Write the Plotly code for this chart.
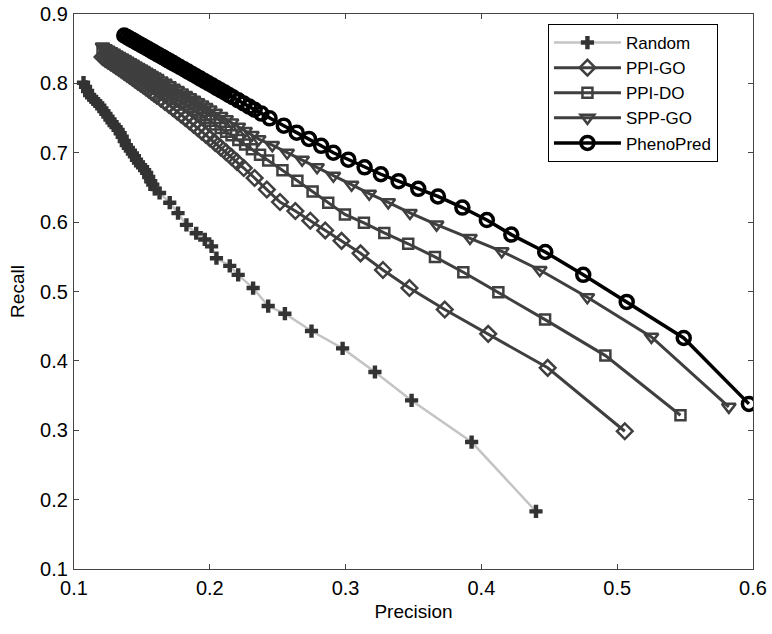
import plotly.graph_objects as go

# ---------------- data ----------------
random_x = [0.1070, 0.1085, 0.1100, 0.1115, 0.1130, 0.1145, 0.1160, 0.1175, 0.1190, 0.1205,
            0.1220, 0.1235, 0.1250, 0.1265, 0.1280, 0.1295, 0.1310, 0.1325, 0.1340, 0.1355,
            0.1370, 0.1385, 0.1400, 0.1415, 0.1430, 0.1445, 0.1460, 0.1475, 0.1490, 0.1505,
            0.1520, 0.1535, 0.1550, 0.1565, 0.1580, 0.1595,
            0.163, 0.1705, 0.1766, 0.1828, 0.190, 0.1963, 0.2013, 0.2049, 0.2147, 0.2209,
            0.2319, 0.243, 0.2553, 0.2749, 0.2978, 0.3216, 0.3486, 0.3928, 0.4402]
random_y = [0.801, 0.795, 0.789, 0.783, 0.780, 0.777, 0.774, 0.771, 0.768, 0.764,
            0.760, 0.756, 0.752, 0.748, 0.744, 0.740, 0.737, 0.733, 0.728, 0.723,
            0.717, 0.711, 0.707, 0.703, 0.699, 0.695, 0.690, 0.686, 0.682, 0.679,
            0.675, 0.671, 0.665, 0.659, 0.654, 0.648,
            0.642, 0.628, 0.613, 0.596, 0.584, 0.575, 0.565, 0.548, 0.537, 0.524,
            0.505, 0.479, 0.468, 0.443, 0.418, 0.384, 0.343, 0.283, 0.183]

ppigo_x = [0.121, 0.123, 0.125, 0.127, 0.129, 0.131, 0.133, 0.135, 0.137, 0.139,
           0.141, 0.143, 0.145, 0.147, 0.149, 0.151, 0.153, 0.155, 0.157, 0.159,
           0.161, 0.164, 0.167, 0.170, 0.173, 0.176, 0.179, 0.182, 0.185, 0.188,
           0.191, 0.194, 0.197, 0.200, 0.204, 0.208, 0.212, 0.216, 0.220, 0.225,
           0.233, 0.242, 0.2517, 0.263, 0.274, 0.285, 0.297, 0.311, 0.3275, 0.347,
           0.373, 0.405, 0.4488, 0.5056]
ppigo_y = [0.838, 0.8354, 0.8327, 0.8301, 0.8275, 0.8248, 0.8221, 0.8194, 0.8166, 0.8138,
           0.8111, 0.8083, 0.8055, 0.8026, 0.7998, 0.7969, 0.7940, 0.7911, 0.7882, 0.7853,
           0.7823, 0.7778, 0.7733, 0.7688, 0.7642, 0.7595, 0.7548, 0.7501, 0.7454, 0.7406,
           0.7357, 0.7308, 0.7259, 0.7209, 0.7142, 0.7075, 0.7007, 0.6938, 0.6868, 0.6780,
           0.6636, 0.6470, 0.629, 0.616, 0.602, 0.588, 0.573, 0.555, 0.531, 0.505,
           0.474, 0.439, 0.390, 0.2986]

ppido_x = [0.121, 0.123, 0.125, 0.127, 0.129, 0.131, 0.133, 0.135, 0.137, 0.139,
           0.141, 0.143, 0.145, 0.147, 0.149, 0.151, 0.153, 0.155, 0.157, 0.159,
           0.161, 0.164, 0.167, 0.170, 0.173, 0.176, 0.179, 0.182, 0.185, 0.188,
           0.191, 0.194, 0.197, 0.200, 0.204, 0.208, 0.212, 0.216, 0.221, 0.226,
           0.231, 0.237, 0.243, 0.2535, 0.2645, 0.2757, 0.2872, 0.2995, 0.3135, 0.3285,
           0.3461, 0.3658, 0.3867, 0.4125, 0.4469, 0.4913, 0.5466]
ppido_y = [0.846, 0.8436, 0.8411, 0.8387, 0.8362, 0.8338, 0.8313, 0.8288, 0.8264, 0.8239,
           0.8214, 0.8189, 0.8164, 0.8139, 0.8114, 0.8089, 0.8064, 0.8039, 0.8014, 0.7988,
           0.7963, 0.7925, 0.7887, 0.7849, 0.7811, 0.7772, 0.7734, 0.7695, 0.7657, 0.7618,
           0.7579, 0.7540, 0.7501, 0.7462, 0.7409, 0.7357, 0.7304, 0.7251, 0.7185, 0.7118,
           0.7051, 0.6971, 0.6889, 0.6747, 0.6596, 0.6441, 0.628, 0.611, 0.599, 0.5844,
           0.5688, 0.5499, 0.5277, 0.4989, 0.4595, 0.4076, 0.3216]

sppgo_x = [0.121, 0.123, 0.125, 0.127, 0.129, 0.131, 0.133, 0.135, 0.137, 0.139,
           0.141, 0.143, 0.145, 0.147, 0.149, 0.151, 0.153, 0.155, 0.157, 0.159,
           0.161, 0.164, 0.167, 0.170, 0.173, 0.176, 0.179, 0.182, 0.185, 0.188,
           0.191, 0.194, 0.197, 0.200, 0.204, 0.208, 0.212, 0.216, 0.221, 0.226,
           0.231, 0.236, 0.246, 0.257, 0.268, 0.279, 0.291, 0.3044, 0.3174, 0.3314,
           0.3474, 0.367, 0.3916, 0.415, 0.443, 0.478, 0.5252, 0.5822]
sppgo_y = [0.853, 0.8508, 0.8485, 0.8463, 0.8440, 0.8418, 0.8395, 0.8372, 0.8350, 0.8327,
           0.8305, 0.8282, 0.8259, 0.8236, 0.8214, 0.8191, 0.8168, 0.8145, 0.8122, 0.8099,
           0.8076, 0.8042, 0.8008, 0.7973, 0.7938, 0.7903, 0.7868, 0.7834, 0.7799, 0.7764,
           0.7729, 0.7694, 0.7658, 0.7623, 0.7576, 0.7529, 0.7482, 0.7435, 0.7375, 0.7315,
           0.7255, 0.7196, 0.711, 0.700, 0.690, 0.679, 0.667, 0.654, 0.641, 0.6285,
           0.6133, 0.5964, 0.5772, 0.5579, 0.531, 0.4917, 0.4346, 0.3337]

phenopred_x = [0.137, 0.139, 0.141, 0.143, 0.145, 0.147, 0.149, 0.151, 0.153, 0.155,
               0.157, 0.159, 0.161, 0.163, 0.165, 0.167, 0.169, 0.171, 0.173, 0.175,
               0.178, 0.181, 0.184, 0.187, 0.190, 0.193, 0.196, 0.199, 0.202, 0.205,
               0.208, 0.211, 0.214, 0.217, 0.221, 0.225, 0.229, 0.233, 0.238, 0.244,
               0.2545, 0.264, 0.273, 0.282, 0.291, 0.302, 0.314, 0.326, 0.339, 0.3535,
               0.368, 0.386, 0.404, 0.422, 0.447, 0.475, 0.507, 0.549, 0.597]
phenopred_y = [0.869, 0.8668, 0.8646, 0.8624, 0.8602, 0.8580, 0.8558, 0.8536, 0.8514, 0.8492,
               0.8469, 0.8447, 0.8425, 0.8403, 0.8381, 0.8359, 0.8336, 0.8314, 0.8292, 0.8270,
               0.8236, 0.8203, 0.8170, 0.8136, 0.8103, 0.8069, 0.8036, 0.8002, 0.7969, 0.7935,
               0.7901, 0.7868, 0.7834, 0.7800, 0.7755, 0.7710, 0.7665, 0.7620, 0.7564, 0.7496,
               0.739, 0.729, 0.720, 0.710, 0.700, 0.690, 0.679, 0.669, 0.659, 0.648,
               0.637, 0.621, 0.603, 0.582, 0.557, 0.524, 0.485, 0.433, 0.338]

x_ticks = [0.1, 0.2, 0.3, 0.4, 0.5, 0.6]
y_ticks = [0.1, 0.2, 0.3, 0.4, 0.5, 0.6, 0.7, 0.8, 0.9]

GREY = "#3f3f3f"
FONT = "Liberation Sans, Arial, sans-serif"

fig = go.Figure()

fig.add_trace(go.Scatter(
    x=random_x, y=random_y, name="Random", mode="lines+markers",
    line=dict(color="#c4c4c4", width=2.5),
    marker=dict(symbol="cross", size=11, color="#333333")))

fig.add_trace(go.Scatter(
    x=ppigo_x, y=ppigo_y, name="PPI-GO", mode="lines+markers",
    line=dict(color=GREY, width=3),
    marker=dict(symbol="diamond-open", size=12, color=GREY, line=dict(width=2.5, color=GREY))))

fig.add_trace(go.Scatter(
    x=ppido_x, y=ppido_y, name="PPI-DO", mode="lines+markers",
    line=dict(color=GREY, width=3),
    marker=dict(symbol="square-open", size=10, color=GREY, line=dict(width=2.5, color=GREY))))

fig.add_trace(go.Scatter(
    x=sppgo_x, y=sppgo_y, name="SPP-GO", mode="lines+markers",
    line=dict(color=GREY, width=3),
    marker=dict(symbol="triangle-down-open", size=12, color=GREY, line=dict(width=2.5, color=GREY))))

fig.add_trace(go.Scatter(
    x=phenopred_x, y=phenopred_y, name="PhenoPred", mode="lines+markers",
    line=dict(color="#000000", width=3.5),
    marker=dict(symbol="circle-open", size=13, color="#000000", line=dict(width=3.5, color="#000000"))))

axis_common = dict(
    showgrid=False, zeroline=False, showline=True, linecolor="#444444", linewidth=1.2,
    mirror="ticks", ticks="inside", ticklen=5, tickcolor="#444444", tickwidth=1,
    tickfont=dict(family=FONT, size=20, color="#000000"), automargin=False,
    ticklabeloverflow="allow",
)

fig.update_xaxes(range=[0.1, 0.6], tickvals=x_ticks, ticktext=[str(v) for v in x_ticks],
                 title=dict(text="Precision", font=dict(family=FONT, size=19, color="#000000"), standoff=6),
                 ticklabelstandoff=1, **axis_common)
fig.update_yaxes(range=[0.1, 0.9], tickvals=y_ticks, ticktext=[str(v) for v in y_ticks],
                 title=dict(text="Recall", font=dict(family=FONT, size=19, color="#000000"), standoff=10),
                 ticklabelstandoff=1, **axis_common)

fig.update_layout(
    width=772, height=634,
    margin=dict(l=74, r=19, t=14, b=65),
    plot_bgcolor="white", paper_bgcolor="white",
    font=dict(family=FONT, color="#000000"),
    legend=dict(x=0.698, y=0.982, xanchor="left", yanchor="top",
                bgcolor="white", bordercolor="#000000", borderwidth=1,
                font=dict(family=FONT, size=17, color="#000000"),
                itemwidth=67, tracegroupgap=0),
)

# remove the page's default body margin so the figure sits at the window's corner
fig.write_html("out.html",
               config={"displayModeBar": False},
               post_script="document.body.style.margin='0px';document.body.style.overflow='hidden';")
